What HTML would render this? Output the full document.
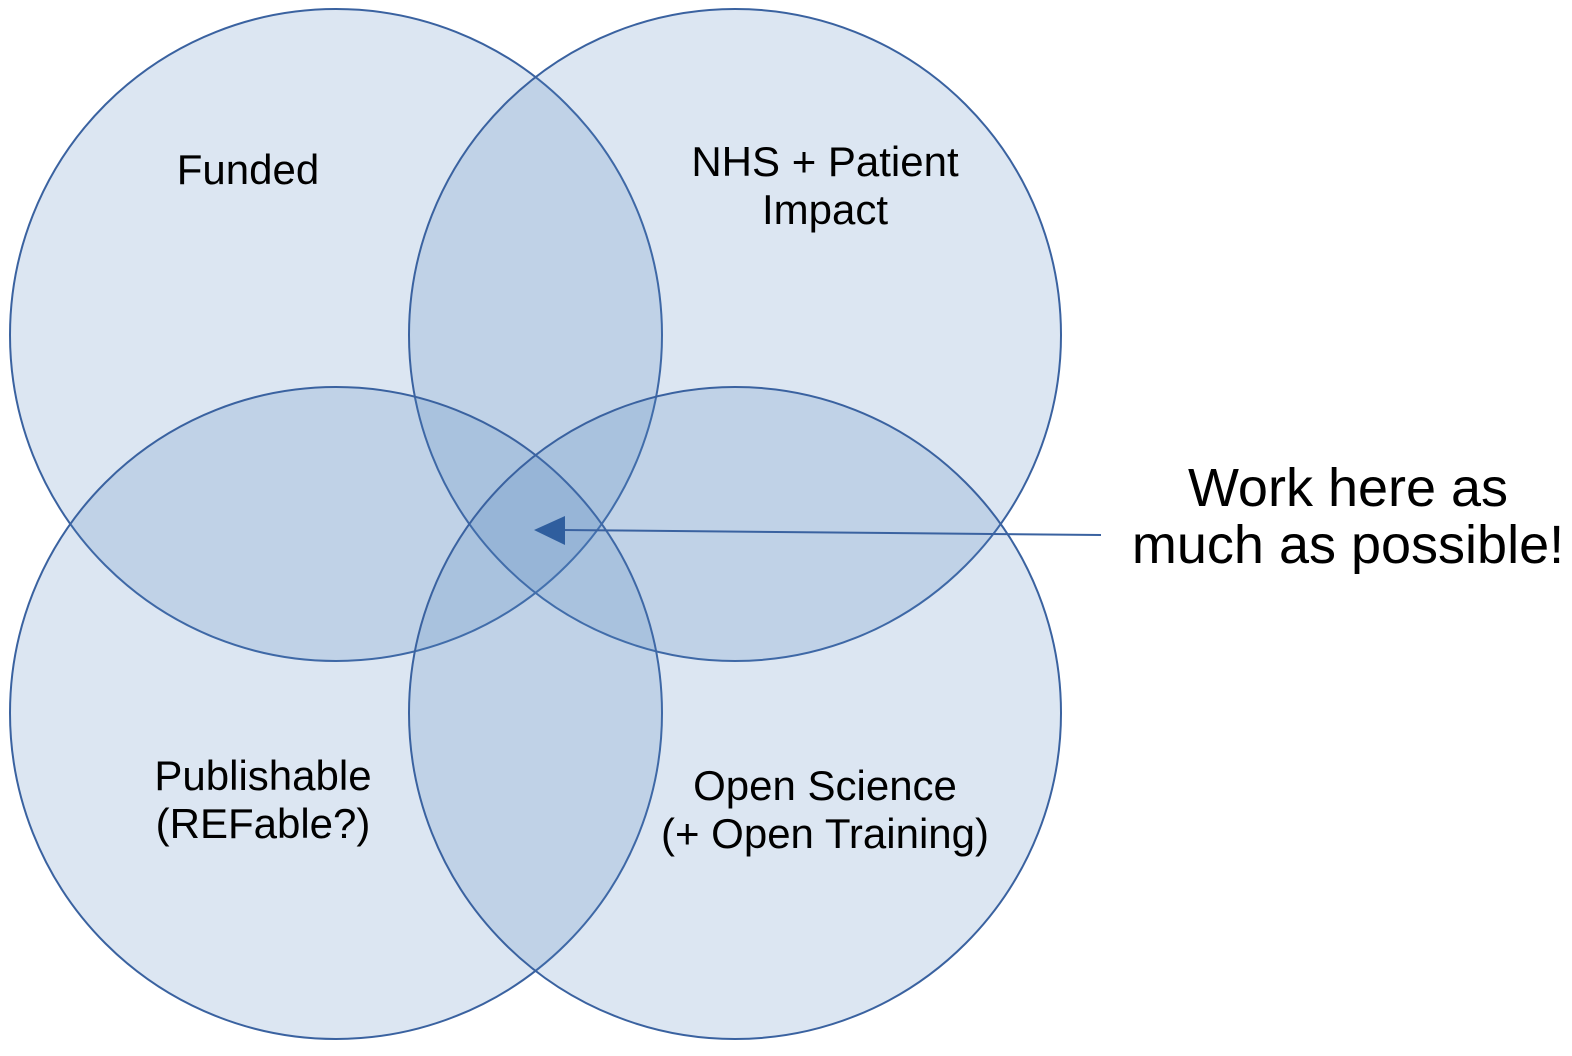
<!DOCTYPE html>
<html><head><meta charset="utf-8"><style>html,body{margin:0;padding:0;background:#fff}svg{display:block}</style></head>
<body>
<svg width="1572" height="1056" viewBox="0 0 1572 1056" xmlns="http://www.w3.org/2000/svg">
<g fill="rgb(79,129,189)" fill-opacity="0.2" stroke="#3a62a0" stroke-width="2">
<circle cx="336" cy="335" r="326"/>
<circle cx="735" cy="335" r="326"/>
<circle cx="336" cy="713" r="326"/>
<circle cx="735" cy="713" r="326"/>
</g>
<line x1="1101" y1="535" x2="562" y2="530" stroke="#3a62a0" stroke-width="2"/>
<polygon points="534,530 565,516 565,545" fill="#2f5e9e"/>
<g font-family="Liberation Sans, sans-serif" fill="#000" text-anchor="middle" font-size="42">
<text x="248" y="184">Funded</text>
<text x="825" y="176">NHS + Patient</text>
<text x="825" y="224">Impact</text>
<text x="263" y="790">Publishable</text>
<text x="263" y="838">(REFable?)</text>
<text x="825" y="800">Open Science</text>
<text x="825" y="848">(+ Open Training)</text>
<text x="1348" y="506" font-size="54">Work here as</text>
<text x="1348" y="563" font-size="54">much as possible!</text>
</g>
</svg>
</body></html>
